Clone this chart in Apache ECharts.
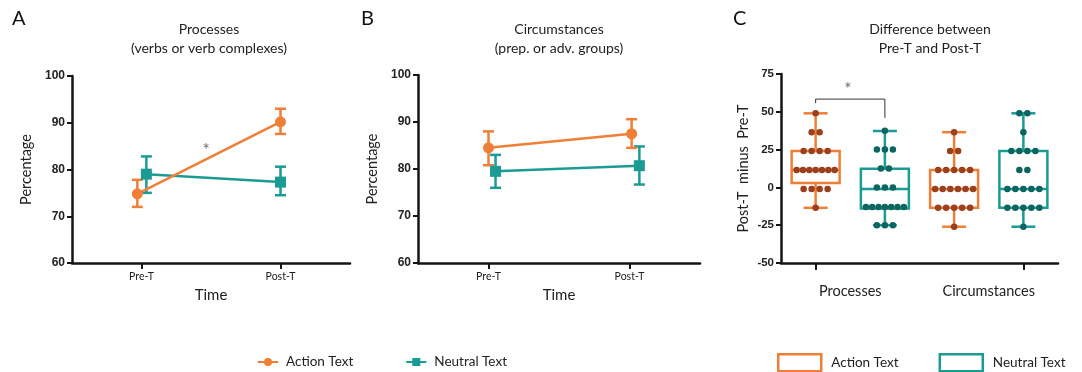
<!DOCTYPE html>
<html>
<head>
<meta charset="utf-8">
<script src="https://cdn.jsdelivr.net/npm/echarts@6/dist/echarts.min.js"></script>
<style>
  html, body { margin: 0; padding: 0; background: #fff; }
  #chart { width: 1082px; height: 372px; }
</style>
</head>
<body>
<div id="chart"></div>
<script>
// ---- panels A and B: means with error bars ----
var timePoints = ["Pre-T", "Post-T"];
var procAction = [74.8, 90.2];
var procActionErr = [[72.0, 77.8], [87.6, 93.0]];
var procNeutral = [79.0, 77.3];
var procNeutralErr = [[75.0, 82.8], [74.5, 80.6]];
var circAction = [84.5, 87.5];
var circActionErr = [[80.8, 88.0], [84.5, 90.6]];
var circNeutral = [79.5, 80.7];
var circNeutralErr = [[76.0, 83.0], [76.7, 84.8]];
// small horizontal dodge of the points (in category units)
var dodgeProcAction = [-0.03, 0];
var dodgeProcNeutral = [0.035, 0];
var dodgeCircAction = [0, 0.015];
var dodgeCircNeutral = [0.05, 0.07];

// ---- panel C: difference Post-T minus Pre-T ----
var groupNames = ["Processes", "Circumstances"];
var boxCats = ["Processes Action", "Processes Neutral", "Circumstances Action", "Circumstances Neutral"];
// [min, Q1, median, Q3, max]
var boxProcAction = [-13.5, 2.9, 11.5, 24, 49];
var boxProcNeutral = [-25, -14, -1, 12.3, 37.3];
var boxCircAction = [-26, -13.5, -1, 11.5, 36.5];
var boxCircNeutral = [-26, -13.5, -1, 24, 49];
// individual values
var dotsProcAction = [49, 36.5, 36.5, 24, 24, 24, 24, 11.5, 11.5, 11.5, 11.5, 11.5, 11.5, 11.5,
  -1, -1, -1, -1, -13.5];
var dotsProcNeutral = [37.5, 25, 25, 25, 12.5, 12.5, 0, 0, 0, -13, -13, -13, -13, -13, -13, -13,
  -25, -25, -25];
var dotsCircAction = [36.5, 24, 24, 11.5, 11.5, 11.5, 11.5, 11.5, -1, -1, -1, -1, -1, -1,
  -13.5, -13.5, -13.5, -13.5, -13.5, -26];
var dotsCircNeutral = [49, 49, 36.5, 24, 24, 24, 24, 11.5, 11.5, -1, -1, -1, -1, -1,
  -13.5, -13.5, -13.5, -13.5, -13.5, -26];
// significance bracket (between the two Processes boxes)
var bracketC = [[0, 55.7], [0, 58.4], [1, 58.4], [1, 46]];

var ORANGE = "#ef7f36";
var TEAL = "#1a9b93";
var BROWN = "#9c3f1d";
var DARKTEAL = "#0b6560";
var AXIS = "#151515";
var FONT = "Lato";

// points with dodge
function pts(vals, dodge) {
  return vals.map(function (v, i) { return [i + dodge[i], v]; });
}
function errs(list, dodge) {
  return list.map(function (e, i) { return [i + dodge[i], e[0], e[1]]; });
}
// spread equal values sideways like a dot plot
var PX_PER_CAT = 69.25;
function swarm(values, cat) {
  var counts = {}, seen = {};
  values.forEach(function (v) { counts[v] = (counts[v] || 0) + 1; });
  return values.map(function (v) {
    var k = counts[v];
    seen[v] = seen[v] === undefined ? 0 : seen[v] + 1;
    var step = k > 1 ? Math.min(8, 38 / (k - 1)) : 0;
    var px = (seen[v] - (k - 1) / 2) * step;
    return [cat + px / PX_PER_CAT, v];
  });
}

function errorBarItem(params, api) {
  var x = api.value(0);
  var lo = api.coord([x, api.value(1)]);
  var hi = api.coord([x, api.value(2)]);
  var w = 5.5;
  var st = { stroke: api.visual("color"), lineWidth: 2.5 };
  return {
    type: "group",
    children: [
      { type: "line", shape: { x1: lo[0], y1: lo[1], x2: hi[0], y2: hi[1] }, style: st },
      { type: "line", shape: { x1: lo[0] - w, y1: lo[1], x2: lo[0] + w, y2: lo[1] }, style: st },
      { type: "line", shape: { x1: hi[0] - w, y1: hi[1], x2: hi[0] + w, y2: hi[1] }, style: st }
    ]
  };
}

function boxItem(params, api) {
  var x = api.value(0);
  var p = [1, 2, 3, 4, 5].map(function (i) { return api.coord([x, api.value(i)]); });
  var cx = p[0][0], hw = 24, cw = 12;
  var st = { stroke: api.visual("color"), lineWidth: 2.5, fill: null };
  return {
    type: "group",
    children: [
      { type: "rect", shape: { x: cx - hw, y: p[3][1], width: hw * 2, height: p[1][1] - p[3][1] }, style: st },
      { type: "line", shape: { x1: cx - hw, y1: p[2][1], x2: cx + hw, y2: p[2][1] }, style: st },
      { type: "line", shape: { x1: cx, y1: p[0][1], x2: cx, y2: p[1][1] }, style: st },
      { type: "line", shape: { x1: cx, y1: p[3][1], x2: cx, y2: p[4][1] }, style: st },
      { type: "line", shape: { x1: cx - cw, y1: p[0][1], x2: cx + cw, y2: p[0][1] }, style: st },
      { type: "line", shape: { x1: cx - cw, y1: p[4][1], x2: cx + cw, y2: p[4][1] }, style: st }
    ]
  };
}

var axisLine = { show: true, onZero: false, lineStyle: { color: AXIS, width: 2.5 } };
var tickLabel = { color: "#222", fontFamily: "Liberation Sans", fontWeight: "bold", fontSize: 12, margin: 7 };

function valueY(grid, min, max, step, name, gap) {
  return {
    type: "value", gridIndex: grid, min: min, max: max, interval: step,
    axisLine: axisLine,
    axisTick: { show: true, length: 5, lineStyle: { color: AXIS, width: 2 } },
    axisLabel: tickLabel,
    splitLine: { show: false },
    name: name, nameLocation: "middle", nameGap: gap,
    nameTextStyle: { color: "#222", fontFamily: FONT, fontSize: 14.5 }
  };
}
function hiddenX(grid, min, max) {
  return { type: "value", gridIndex: grid, min: min, max: max, show: false, position: "bottom",
    axisLine: { onZero: false } };
}
function timeAxis(grid) {
  return {
    type: "category", gridIndex: grid, data: timePoints, position: "bottom",
    axisLine: axisLine,
    axisTick: { show: true, alignWithLabel: true, length: 6, lineStyle: { color: AXIS, width: 2 } },
    axisLabel: { color: "#222", fontFamily: FONT, fontSize: 10.5, margin: 8.5 },
    name: "Time", nameLocation: "middle", nameGap: 25,
    nameTextStyle: { color: "#222", fontFamily: FONT, fontSize: 15 }
  };
}

function starSeries(xi, yi, at) {
  return {
    type: "scatter", xAxisIndex: xi, yAxisIndex: yi, data: [at],
    symbolSize: 1, itemStyle: { color: "rgba(0,0,0,0)" }, silent: true,
    label: { show: true, position: "inside", formatter: "*", color: "#444", fontSize: 17, fontFamily: FONT }
  };
}

var series = [
  // panel A
  { type: "custom", name: "Neutral bars", xAxisIndex: 0, yAxisIndex: 0, renderItem: errorBarItem,
    itemStyle: { color: TEAL }, data: errs(procNeutralErr, dodgeProcNeutral) },
  { type: "line", name: "Neutral Text", xAxisIndex: 0, yAxisIndex: 0, data: pts(procNeutral, dodgeProcNeutral),
    symbol: "rect", symbolSize: 11, itemStyle: { color: TEAL }, lineStyle: { color: TEAL, width: 2.5 } },
  { type: "custom", name: "Action bars", xAxisIndex: 0, yAxisIndex: 0, renderItem: errorBarItem,
    itemStyle: { color: ORANGE }, data: errs(procActionErr, dodgeProcAction) },
  { type: "line", name: "Action Text", xAxisIndex: 0, yAxisIndex: 0, data: pts(procAction, dodgeProcAction),
    symbol: "circle", symbolSize: 11, itemStyle: { color: ORANGE }, lineStyle: { color: ORANGE, width: 2.5 } },
  starSeries(0, 0, [0.465, 84]),
  // panel B
  { type: "custom", name: "Neutral bars", xAxisIndex: 2, yAxisIndex: 1, renderItem: errorBarItem,
    itemStyle: { color: TEAL }, data: errs(circNeutralErr, dodgeCircNeutral) },
  { type: "line", name: "Neutral Text", xAxisIndex: 2, yAxisIndex: 1, data: pts(circNeutral, dodgeCircNeutral),
    symbol: "rect", symbolSize: 11, itemStyle: { color: TEAL }, lineStyle: { color: TEAL, width: 2.5 } },
  { type: "custom", name: "Action bars", xAxisIndex: 2, yAxisIndex: 1, renderItem: errorBarItem,
    itemStyle: { color: ORANGE }, data: errs(circActionErr, dodgeCircAction) },
  { type: "line", name: "Action Text", xAxisIndex: 2, yAxisIndex: 1, data: pts(circAction, dodgeCircAction),
    symbol: "circle", symbolSize: 11, itemStyle: { color: ORANGE }, lineStyle: { color: ORANGE, width: 2.5 } },
  // panel C boxes
  { type: "custom", name: "Action box", xAxisIndex: 4, yAxisIndex: 2, renderItem: boxItem,
    itemStyle: { color: ORANGE }, data: [[0].concat(boxProcAction), [2].concat(boxCircAction)] },
  { type: "custom", name: "Neutral box", xAxisIndex: 4, yAxisIndex: 2, renderItem: boxItem,
    itemStyle: { color: TEAL }, data: [[1].concat(boxProcNeutral), [3].concat(boxCircNeutral)] },
  // panel C dots
  { type: "scatter", xAxisIndex: 4, yAxisIndex: 2, symbolSize: 6.5, itemStyle: { color: BROWN, opacity: 1 },
    data: swarm(dotsProcAction, 0).concat(swarm(dotsCircAction, 2)) },
  { type: "scatter", xAxisIndex: 4, yAxisIndex: 2, symbolSize: 6.5, itemStyle: { color: DARKTEAL, opacity: 1 },
    data: swarm(dotsProcNeutral, 1).concat(swarm(dotsCircNeutral, 3)) },
  // bracket + star
  { type: "line", xAxisIndex: 4, yAxisIndex: 2, data: bracketC, symbol: "none", silent: true,
    lineStyle: { color: "#333", width: 1 } },
  starSeries(4, 2, [0.465, 64.5])
];

function titleText(x, text) {
  return {
    type: "text", x: x, y: 20,
    style: { text: text, textAlign: "center", fill: "#222", fontFamily: FONT, fontSize: 14, lineHeight: 19 }
  };
}
function letter(x, text) {
  return { type: "text", x: x, y: 9, style: { text: text, fill: "#111", fontFamily: FONT, fontSize: 20 } };
}

var option = {
  animation: false,
  backgroundColor: "#fff",
  grid: [
    { left: 72, top: 76, width: 278, height: 187, containLabel: false, outerBoundsMode: "none" },
    { left: 418, top: 75, width: 282, height: 188, containLabel: false, outerBoundsMode: "none" },
    { left: 781, top: 74, width: 277, height: 189, containLabel: false, outerBoundsMode: "none" }
  ],
  xAxis: [
    hiddenX(0, -0.5, 1.5),
    timeAxis(0),
    hiddenX(1, -0.5, 1.5),
    timeAxis(1),
    hiddenX(2, -0.5, 3.5),
    {
      type: "category", gridIndex: 2, data: boxCats, position: "bottom",
      axisLine: axisLine,
      axisTick: { show: true, alignWithLabel: true, length: 7, lineStyle: { color: AXIS, width: 2 } },
      axisLabel: { show: false }
    },
    {
      type: "category", gridIndex: 2, data: groupNames, position: "bottom",
      axisLine: { show: false, onZero: false }, axisTick: { show: false },
      axisLabel: { color: "#222", fontFamily: FONT, fontSize: 14.5, margin: 21 }
    }
  ],
  yAxis: [
    valueY(0, 60, 100, 10, "Percentage", 38),
    valueY(1, 60, 100, 10, "Percentage", 38),
    (function () {
      var a = valueY(2, -50, 75, 25, "Post-T  minus  Pre-T", 30);
      a.axisLabel = Object.assign({}, tickLabel, { fontSize: 11.5 });
      return a;
    })()
  ],
  legend: [
    {
      left: 252, top: 350, itemWidth: 20, itemHeight: 10, itemGap: 52,
      data: ["Action Text", "Neutral Text"],
      textStyle: { color: "#222", fontFamily: FONT, fontSize: 13.5, padding: [0, 0, 0, 3] }
    },
    {
      left: 772, top: 348, itemWidth: 43, itemHeight: 17, itemGap: 40,
      data: [
        { name: "Action box", icon: "rect", itemStyle: { color: "#fff", borderColor: ORANGE, borderWidth: 2.5 } },
        { name: "Neutral box", icon: "rect", itemStyle: { color: "#fff", borderColor: TEAL, borderWidth: 2.5 } }
      ],
      formatter: function (n) { return n === "Action box" ? "Action Text" : "Neutral Text"; },
      textStyle: { color: "#222", fontFamily: FONT, fontSize: 13.5, padding: [0, 0, 0, 5] }
    }
  ],
  graphic: [
    letter(12, "A"), letter(361, "B"), letter(733, "C"),
    titleText(209, "Processes\n(verbs or verb complexes)"),
    titleText(559, "Circumstances\n(prep. or adv. groups)"),
    titleText(930, "Difference between\nPre-T and Post-T")
  ],
  series: series
};

var chart = echarts.init(document.getElementById("chart"));
chart.setOption(option);
</script>
</body>
</html>
